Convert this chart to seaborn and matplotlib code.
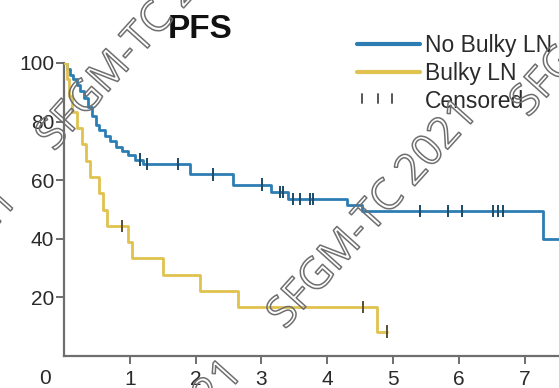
import numpy as np
import pandas as pd
import matplotlib
matplotlib.use("Agg")
import matplotlib.pyplot as plt
import matplotlib.patheffects as pe
from matplotlib.lines import Line2D
from matplotlib.legend_handler import HandlerBase
import seaborn as sns

# ---- data ----
groups = ["No Bulky LN", "Bulky LN"]

blue_t = [0, 0.04, 0.09, 0.14, 0.19, 0.25, 0.31, 0.37, 0.43, 0.48, 0.53, 0.62, 0.70, 0.79,
          0.88, 0.98, 1.08, 1.20, 1.91, 2.57, 3.15, 3.40, 4.30, 4.53, 7.28, 7.70]
blue_s = [100, 98, 96, 94.5, 92.5, 90.5, 88, 85, 82, 79, 77, 75, 73.5, 71.5,
          70, 68.5, 67, 65.5, 62, 58.5, 56, 53.5, 51.5, 49.5, 40, 40]
blue_cens = [1.155, 1.26, 1.73, 2.26, 3.01, 3.28, 3.33, 3.48, 3.59, 3.74, 3.78,
             5.41, 5.84, 6.05, 6.52, 6.60, 6.67]

yell_t = [0, 0.05, 0.08, 0.12, 0.20, 0.28, 0.34, 0.40, 0.53, 0.60, 0.66, 0.97, 1.03,
          1.50, 2.07, 2.64, 4.76, 4.91]
yell_s = [100, 94.4, 88.9, 83.3, 77.8, 72.2, 66.7, 61.1, 55.6, 50.0, 44.4, 38.9, 33.3,
          27.8, 22.2, 16.7, 8.3, 8.3]
yell_cens = [0.88, 4.54, 4.91]

x_ticks = [1, 2, 3, 4, 5, 6, 7]
y_ticks = [20, 40, 60, 80, 100]
legend_labels = ["No Bulky LN", "Bulky LN", "Censored"]
title = "PFS"
watermark = "SFGM-TC 2021"

colors = {"No Bulky LN": "#2b7db3", "Bulky LN": "#e0c24f"}

# ---- build tables ----
curves = pd.concat([
    pd.DataFrame({"time": blue_t, "surv": blue_s, "group": groups[0]}),
    pd.DataFrame({"time": yell_t, "surv": yell_s, "group": groups[1]}),
], ignore_index=True)


def step_value(ts, ss, t):
    i = np.searchsorted(ts, t, side="right") - 1
    return ss[i]


cens = pd.concat([
    pd.DataFrame({"time": blue_cens,
                  "surv": [step_value(blue_t, blue_s, t) for t in blue_cens],
                  "group": groups[0]}),
    pd.DataFrame({"time": yell_cens,
                  "surv": [step_value(yell_t, yell_s, t) for t in yell_cens],
                  "group": groups[1]}),
], ignore_index=True)

sns.set_style("ticks")
plt.rcParams["font.family"] = ["Liberation Sans", "DejaVu Sans"]

W, H = 559, 388
fig = plt.figure(figsize=(W / 100, H / 100), dpi=100)
ax = fig.add_axes([64 / W, (H - 356) / H, (W - 64) / W, 293 / H])

sns.lineplot(data=curves, x="time", y="surv", hue="group", palette=colors,
             drawstyle="steps-post", estimator=None, sort=False, linewidth=2.0,
             legend=False, ax=ax, zorder=3)

sns.scatterplot(data=cens, x="time", y="surv", hue="group",
                palette={"No Bulky LN": "#1d4a66", "Bulky LN": "#5a5030"},
                marker="|", s=80, linewidth=1.4, legend=False, ax=ax, zorder=4)

ax.set_xlim(0, (W - 64) / 65.8)
ax.set_ylim(0, 100)
ax.set_xticks(x_ticks)
ax.set_yticks(y_ticks)
ax.set_xticklabels([str(v) for v in x_ticks])
ax.set_yticklabels([str(v) for v in y_ticks])
ax.set_xlabel("")
ax.set_ylabel("")
sns.despine(ax=ax)
for sp in ("left", "bottom"):
    ax.spines[sp].set_color("#6e6e6e")
    ax.spines[sp].set_linewidth(1.6)
ax.tick_params(axis="both", colors="#6e6e6e", width=1.4, length=6,
               labelsize=15, labelcolor="#2a2a2a")
ax.tick_params(axis="y", pad=1)
ax.tick_params(axis="x", pad=4)
ax.patch.set_alpha(0)

# origin label
fig.text(45 / W, 1 - 378 / H, "0", ha="center", va="center", fontsize=15, color="#2a2a2a")

# title
fig.text(200 / W, 1 - 29 / H, title, ha="center", va="center", fontsize=24,
         fontweight="bold", color="#111111")


# legend
class CensorHandler(HandlerBase):
    def create_artists(self, legend, orig_handle, xdescent, ydescent, width, height,
                       fontsize, trans):
        arts = []
        for f in (0.08, 0.33, 0.56):
            x = -xdescent + f * width
            arts.append(Line2D([x, x], [height * 0.3, height * 0.85], color="#555555",
                               lw=1.4, transform=trans))
        return arts


handles = [
    Line2D([], [], color=colors["No Bulky LN"], lw=3),
    Line2D([], [], color=colors["Bulky LN"], lw=3),
    Line2D([], [], ls="none", marker="|", color="#555555"),
]
leg = fig.legend(handles, legend_labels,
                 loc="upper left", bbox_to_anchor=(357 / W, 1 - 34 / H),
                 frameon=False, fontsize=16.5, handlelength=2.75, handletextpad=0.22,
                 labelspacing=0.22, borderpad=0, borderaxespad=0,
                 handler_map={handles[2]: CensorHandler()})
for t in leg.get_texts():
    t.set_color("#2a2a2a")

# watermarks
wm_style = dict(fontsize=31, family=["Open Sans", "DejaVu Sans"], rotation=48,
                rotation_mode="anchor", ha="left", va="baseline",
                color=(1, 1, 1, 0), zorder=10,
                path_effects=[pe.Stroke(linewidth=1.1, foreground="#6f6f6f")])
for (px, py) in [(54, 152), (285, 330), (528, 118), (50, 590), (-175, 417)]:
    fig.text(px / W, 1 - py / H, watermark, **wm_style)

fig.savefig("out.png", dpi=100)
